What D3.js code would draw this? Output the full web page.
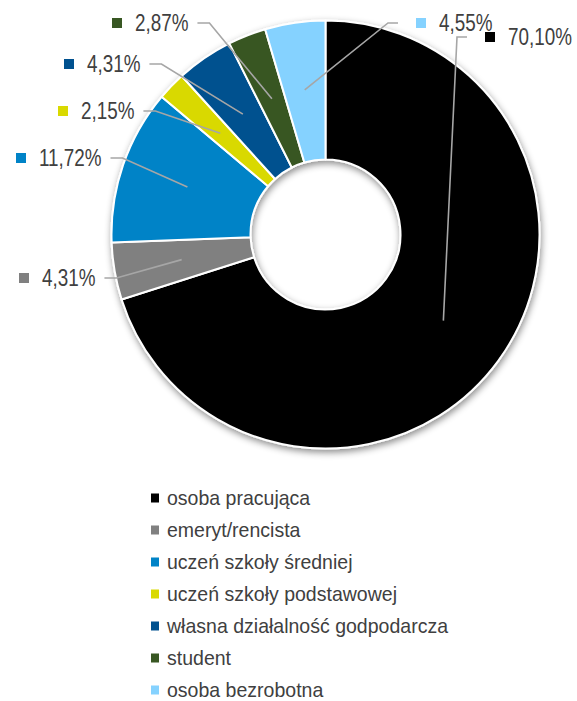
<!DOCTYPE html>
<html>
<head>
<meta charset="utf-8">
<script src="https://cdn.jsdelivr.net/npm/d3@7"></script>
<style>
  body { margin: 0; background: #ffffff; }
  svg text { font-family: "Liberation Sans", Arial, sans-serif; fill: #404040; }
</style>
</head>
<body>
<svg id="chart" width="577" height="701"></svg>
<script>
// Respondents by occupational status (percent)
const categories = [
  "osoba pracująca",
  "emeryt/rencista",
  "uczeń szkoły średniej",
  "uczeń szkoły podstawowej",
  "własna działalność godpodarcza",
  "student",
  "osoba bezrobotna"
];
const shares = [70.10, 4.31, 11.72, 2.15, 4.31, 2.87, 4.55];
const colors = ["#000000", "#808080", "#0083c7", "#d9d900", "#00518f", "#385723", "#85d2ff"];

// Placement of the value labels: marker left edge, vertical centre, side of the ring
const labelLayout = [
  { x: 485, y: 37,  side: "right" },
  { x: 19,  y: 278, side: "left" },
  { x: 16,  y: 158, side: "left" },
  { x: 58,  y: 111, side: "left" },
  { x: 64,  y: 64,  side: "left" },
  { x: 112, y: 23,  side: "left" },
  { x: 416, y: 23,  side: "right" }
];

const fmt = v => d3.format(".2f")(v).replace(".", ",") + "%";

const svg = d3.select("#chart");
const cx = 325.5, cy = 234.5;
const outerR = 214, innerR = 75;

// soft drop shadow under the ring
const defs = svg.append("defs");
const f = defs.append("filter").attr("id", "shadow")
  .attr("x", "-10%").attr("y", "-10%").attr("width", "120%").attr("height", "125%");
f.append("feDropShadow")
  .attr("dx", 1).attr("dy", 3).attr("stdDeviation", 3.5)
  .attr("flood-color", "#000").attr("flood-opacity", 0.45);

const pie = d3.pie().sort(null).value(d => d)(shares);
const arc = d3.arc().innerRadius(innerR).outerRadius(outerR);
const leaderArc = d3.arc().innerRadius(146).outerRadius(146);

const ring = svg.append("g")
  .attr("transform", `translate(${cx},${cy})`)
  .attr("filter", "url(#shadow)");

ring.selectAll("path")
  .data(pie)
  .join("path")
  .attr("d", arc)
  .attr("fill", (d, i) => colors[i])
  .attr("stroke", "#ffffff")
  .attr("stroke-width", 2)
  .attr("stroke-linejoin", "round");

// value labels with leader lines
const labels = svg.append("g");
pie.forEach((d, i) => {
  const L = labelLayout[i];
  const g = labels.append("g");
  g.append("rect")
    .attr("x", L.x).attr("y", L.y - 5)
    .attr("width", 10).attr("height", 10)
    .attr("fill", colors[i]);
  const tx = L.x + 23;
  const t = g.append("text")
    .attr("transform", `translate(${tx},${L.y}) scale(0.82,1)`)
    .attr("dy", "0.36em")
    .attr("font-size", 23)
    .text(fmt(d.data));
  const w = t.node().getComputedTextLength() * 0.82;
  let endX, elbowX;
  if (L.side === "left") {
    endX = tx + w + 9;
    elbowX = endX + 12;
  } else {
    endX = L.x - 18;
    elbowX = endX - 10;
  }
  const c = leaderArc.centroid(d);
  const pts = [[endX, L.y], [elbowX, L.y], [cx + c[0], cy + c[1]]];
  svg.append("path")
    .attr("d", d3.line()(pts))
    .attr("fill", "none")
    .attr("stroke", "#a6a6a6")
    .attr("stroke-width", 1.6);
});

// legend
const legend = svg.append("g");
categories.forEach((name, i) => {
  const y = 498 + i * 32;
  legend.append("rect")
    .attr("x", 151).attr("y", y - 4.5)
    .attr("width", 8).attr("height", 9)
    .attr("fill", colors[i]);
  legend.append("text")
    .attr("transform", `translate(167,${y}) scale(0.93,1)`)
    .attr("dy", "0.35em")
    .attr("font-size", 21)
    .text(name);
});
</script>
</body>
</html>
